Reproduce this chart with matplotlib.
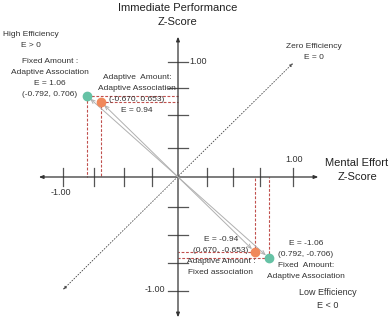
import matplotlib.pyplot as plt
import numpy as np

plt.rcParams['font.family'] = ['Liberation Sans', 'DejaVu Sans']

# points: (mental effort z, performance z)
fixed_amt = [(-0.792, 0.706), (0.792, -0.706)]
adapt_amt = [(-0.670, 0.653), (0.670, -0.653)]
x_ticks = [-1.0, -0.73, -0.47, -0.23, 0.25, 0.48, 0.71, 1.0]
y_ticks = [1.0, 0.77, 0.54, 0.25, -0.26, -0.5, -0.75, -0.99]

green = '#66c2a5'
orange = '#f0895c'
red = '#c0504d'
W, H = 390, 325
ox, oy, sc = 178, 177, 115  # origin pixel, pixels per unit

fig = plt.figure(figsize=(W/100, H/100), dpi=100)
ax = fig.add_axes([0, 0, 1, 1])
ax.set_xlim(-ox/sc, (W-ox)/sc)
ax.set_ylim(-(H-oy)/sc, oy/sc)
ax.axis('off')

def txt(x, y, s, size=6, ls=1.75, **kw):
    # place text by pixel position
    kw.setdefault('ha', 'center')
    kw.setdefault('va', 'center')
    fig.text(x/W, 1-y/H, s, fontsize=size, linespacing=ls, multialignment='center', **kw)

# axes with arrow heads
axprops = dict(arrowstyle='<|-|>,head_length=0.25,head_width=0.1', color='#333333', lw=0.9,
               shrinkA=0, shrinkB=0)
ax.annotate('', xy=(1.22, 0), xytext=(-1.21, 0), arrowprops=axprops)
ax.annotate('', xy=(0, 1.22), xytext=(0, -1.22), arrowprops=axprops)
for t in x_ticks:
    ax.plot([t, t], [-0.078, 0.078], color='#555555', lw=0.9)
for t in y_ticks:
    ax.plot([-0.085, 0.085], [t, t], color='#555555', lw=0.9)

# zero efficiency line
ax.annotate('', xy=(1.0, 0.99), xytext=(-1.0, -0.98),
            arrowprops=dict(arrowstyle='<|-|>,head_length=0.2,head_width=0.08', color='#444444',
                            lw=0.6, linestyle=(0, (1.2, 2.2)), shrinkA=0, shrinkB=0))

# dashed projections
for (x, y) in fixed_amt + adapt_amt:
    ax.plot([x, 0], [y, y], color=red, lw=0.8, ls=(0, (2.5, 1.5)))
    ax.plot([x, x], [y, 0], color=red, lw=0.8, ls=(0, (2.5, 1.5)))

# connecting arrows
for pts in [fixed_amt, adapt_amt]:
    ax.annotate('', xy=pts[0], xytext=pts[1],
                arrowprops=dict(arrowstyle='<->,head_length=0.3,head_width=0.12', color='#b0b0b0',
                                lw=0.7, shrinkA=3, shrinkB=3))

ax.scatter([p[0] for p in fixed_amt], [p[1] for p in fixed_amt], s=36, color=green, zorder=5)
ax.scatter([p[0] for p in adapt_amt], [p[1] for p in adapt_amt], s=36, color=orange, zorder=5)

# axis titles
txt(178, 15, 'Immediate Performance\nZ-Score', size=8, ls=1.55, color='#222222')
txt(357, 170, 'Mental Effort\nZ-Score', size=8, ls=1.55, color='#222222')

# tick labels
tc = '#333333'
txt(189, 61, '1.00', size=6.5, ha='left', color=tc)
txt(294, 159, '1.00', size=6.5, color=tc)
txt(61, 193, '-1.00', size=6.5, color=tc)
txt(165, 290, '-1.00', size=6.5, ha='right', color=tc)

# annotations
lc = '#333333'
txt(31, 40, 'High Efficiency\nE > 0', color=lc)
txt(314, 52, 'Zero Efficiency\nE = 0', color=lc)
txt(328, 299, 'Low Efficiency\nE < 0', size=6.5, ls=1.5, color=lc)
txt(50, 78, 'Fixed Amount :\nAdaptive Association\nE = 1.06\n(-0.792, 0.706)', color=lc)
txt(137, 94, 'Adaptive  Amount:\nAdaptive Association\n(-0.670, 0.653)\nE = 0.94', color=lc)
txt(221, 256, 'E = -0.94\n(0.670, -0.653)\nAdaptive Amount :\nFixed association', color=lc)
txt(306, 260, 'E = -1.06\n(0.792, -0.706)\nFixed  Amount:\nAdaptive Association', color=lc)

fig.savefig('out.png', dpi=100)
